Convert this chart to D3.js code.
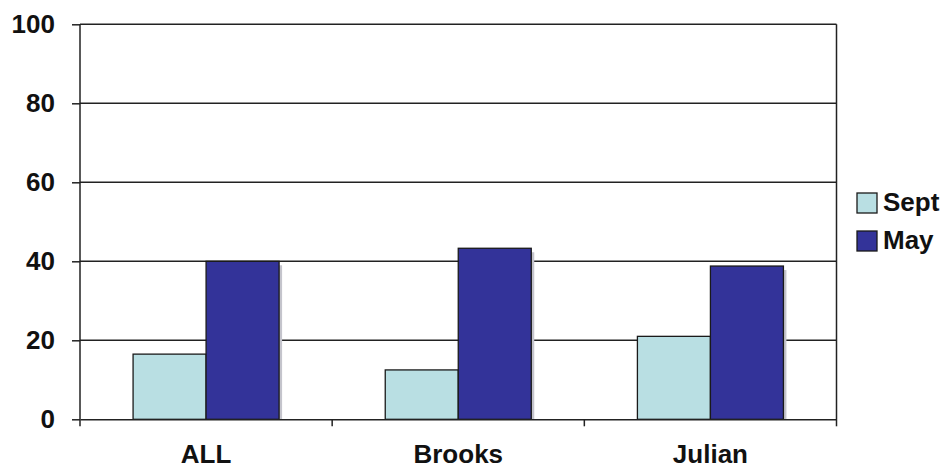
<!DOCTYPE html>
<html>
<head>
<meta charset="utf-8">
<script src="https://cdn.jsdelivr.net/npm/d3@7"></script>
<style>
  html, body { margin: 0; padding: 0; background: #fff; }
  svg { display: block; }
  text { font-family: Arial, "Liberation Sans", sans-serif; font-weight: bold; fill: #111; }
</style>
</head>
<body>
<svg id="chart" width="949" height="469"></svg>
<script>
const categories = ["ALL", "Brooks", "Julian"];
const seriesNames = ["Sept", "May"];
const septValues = [16.5, 12.5, 21.0];
const mayValues = [40.0, 43.3, 38.8];
const yTicks = [0, 20, 40, 60, 80, 100];
const seriesColors = ["#b9dfe3", "#333399"];

(function () {
const seriesValues = [septValues, mayValues];
const svg = d3.select("#chart");
const mLeft = 80, mRight = 836.5, mTop = 24.3, mBottom = 419.3;
const lineColor = "#222";

const x0 = d3.scaleBand().domain(categories).range([mLeft, mRight]).padding(0);
const x1 = d3.scaleBand().domain(seriesNames).range([0, x0.bandwidth()]).paddingInner(0).paddingOuter(0.727);
const y = d3.scaleLinear().domain([0, 100]).range([mBottom, mTop]);

// gridlines
svg.append("g").selectAll("line").data(yTicks.filter(d => d > 0)).join("line")
  .attr("x1", mLeft).attr("x2", mRight)
  .attr("y1", d => y(d)).attr("y2", d => y(d))
  .attr("stroke", lineColor).attr("stroke-width", 1.5);

// right border
svg.append("line").attr("x1", mRight).attr("x2", mRight).attr("y1", mTop).attr("y2", mBottom)
  .attr("stroke", lineColor).attr("stroke-width", 1.5);

// bars
const data = [];
categories.forEach((c, i) => seriesNames.forEach((s, j) => data.push({ c, s, j, v: seriesValues[j][i] })));

const g = svg.append("g");
g.selectAll("rect.shadow").data(data).join("rect").attr("class", "shadow")
  .attr("x", d => x0(d.c) + x1(d.s) + 3)
  .attr("y", d => y(d.v) + 4)
  .attr("width", x1.bandwidth())
  .attr("height", d => mBottom - y(d.v) - 4)
  .attr("fill", "#c4c4cc");
g.selectAll("rect.bar").data(data).join("rect").attr("class", "bar")
  .attr("x", d => x0(d.c) + x1(d.s))
  .attr("y", d => y(d.v))
  .attr("width", x1.bandwidth())
  .attr("height", d => mBottom - y(d.v))
  .attr("fill", d => seriesColors[d.j])
  .attr("stroke", "#1a1a1a").attr("stroke-width", 1.3);

// y axis
const yAxis = svg.append("g").attr("transform", `translate(${mLeft},0)`)
  .call(d3.axisLeft(y).tickValues(yTicks).tickSize(8).tickPadding(17));
yAxis.select(".domain").remove();
yAxis.selectAll(".tick line").attr("stroke", lineColor).attr("stroke-width", 1.5);
yAxis.selectAll(".tick text").attr("font-size", 26).attr("font-family", "Arial, 'Liberation Sans', sans-serif")
  .attr("font-weight", "bold").attr("fill", "#111");
svg.append("line").attr("x1", mLeft).attr("x2", mLeft).attr("y1", mTop).attr("y2", mBottom + 7)
  .attr("stroke", lineColor).attr("stroke-width", 1.5);

// x axis
const xAxis = svg.append("g").attr("transform", `translate(0,${mBottom})`)
  .call(d3.axisBottom(x0).tickSize(0).tickPadding(25));
xAxis.select(".domain").attr("stroke", lineColor).attr("stroke-width", 1.5);
xAxis.selectAll(".tick text").attr("font-size", 26).attr("font-family", "Arial, 'Liberation Sans', sans-serif")
  .attr("font-weight", "bold").attr("fill", "#111");
svg.append("g").selectAll("line").data(categories).join("line")
  .attr("x1", d => x0(d) + x0.step()).attr("x2", d => x0(d) + x0.step())
  .attr("y1", mBottom).attr("y2", mBottom + 7)
  .attr("stroke", lineColor).attr("stroke-width", 1.5);

// legend
const legend = svg.append("g").attr("transform", "translate(857,193)");
const li = legend.selectAll("g").data(seriesNames).join("g")
  .attr("transform", (d, i) => `translate(0,${i * 38})`);
li.append("rect").attr("width", 20).attr("height", 20)
  .attr("fill", (d, i) => seriesColors[i]).attr("stroke", "#1a1a1a").attr("stroke-width", 1.3);
li.append("text").attr("x", 26).attr("y", 18).attr("font-size", 26).text(d => d);
})();
</script>
</body>
</html>
